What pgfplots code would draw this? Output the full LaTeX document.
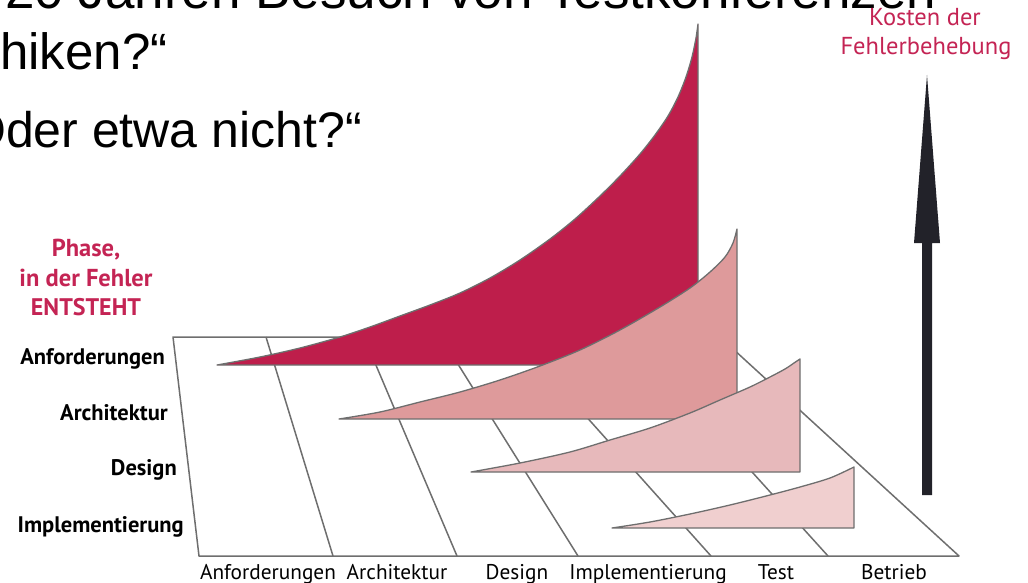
\documentclass[border=0pt]{standalone}
\usepackage{fontspec}
\setmainfont{PT Sans}
\newfontfamily\arialf{Liberation Sans}
\usepackage{pgfplots}
\pgfplotsset{compat=1.18}
\definecolor{cA}{HTML}{BE1E4B}
\definecolor{cB}{HTML}{DE9A9B}
\definecolor{cC}{HTML}{E7B9BB}
\definecolor{cD}{HTML}{F0CFCF}
\definecolor{outl}{HTML}{6E6E6E}
\definecolor{txtred}{HTML}{C42454}
\definecolor{arrowc}{HTML}{222229}
\begin{document}
\begin{tikzpicture}
\begin{axis}[scale only axis, width=1028pt, height=583pt,
  xmin=0, xmax=1028, ymin=0, ymax=583, y dir=reverse,
  hide axis, clip=true, no markers,
  floor/.style={draw=outl, line width=1.5pt, line join=round},
  shape/.style={draw=outl, line width=1.3pt, line join=round}]
% floor
\addplot[floor] coordinates {(173,337) (720,337) (959,556) (199,556)} -- cycle;
\addplot[floor] coordinates {(266,337) (333,556)};
\addplot[floor] coordinates {(364,337) (457,556)};
\addplot[floor] coordinates {(441,337) (578,556)};
\addplot[floor] coordinates {(515,337) (711,556)};
\addplot[floor] coordinates {(630,337) (828,556)};
% Anforderungen
\addplot[shape, fill=cA, smooth] coordinates {(217,365) (260,357) (300,348) (340,337) (370,327) (400,316) (430,305) (460,293) (490,278) (520,260) (550,239) (575,219) (600,196) (620,176) (640,154) (655,135) (668,116) (678,97) (686,77) (692,57) (696,38) (698,24)} -- (axis cs:698,365) -- cycle;
% Architektur
\addplot[shape, fill=cB, smooth] coordinates {(339,419) (380,412) (420,402) (460,392) (500,380) (540,366) (580,350) (620,330) (660,307) (690,288) (710,272) (725,257) (733,243) (737,229)} -- (axis cs:737,419) -- cycle;
% Design
\addplot[shape, fill=cC, smooth] coordinates {(471,472) (520,463) (570,452) (610,440) (650,428) (690,413) (720,400) (750,387) (770,377) (785,369) (794,363) (800,359)} -- (axis cs:800,472) -- cycle;
% Implementierung
\addplot[shape, fill=cD, smooth] coordinates {(612,528) (650,522) (690,514) (730,505) (770,495) (800,487) (830,478) (854,467)} -- (axis cs:854,528) -- cycle;
% arrow
\addplot[fill=arrowc, draw=none] coordinates {(922,495) (922,243) (914,243) (927,75) (940,243) (932,243) (932,495)} -- cycle;
% slide text
\node[anchor=base west, inner sep=0pt, font=\arialf\fontsize{53}{60}\selectfont] at (axis cs:5,9) {20 Jahren Besuch von Testkonferenzen};
\node[anchor=base west, inner sep=0pt, font=\arialf\fontsize{51}{60}\selectfont] at (axis cs:0,70) {hiken?“};
\node[anchor=base west, inner sep=0pt, font=\arialf\fontsize{50}{60}\selectfont] at (axis cs:-33,147) {Oder etwa nicht?“};
% cost label
\node[anchor=base, inner sep=0pt, text=txtred, font=\fontsize{24.5}{28}\selectfont] at (axis cs:925,26) {Kosten der};
\node[anchor=base, inner sep=0pt, text=txtred, font=\fontsize{24.5}{28}\selectfont] at (axis cs:926,55) {Fehlerbehebung};
% phase label
\node[anchor=base, inner sep=0pt, text=txtred, font=\bfseries\fontsize{24.5}{28}\selectfont] at (axis cs:86,256) {Phase,};
\node[anchor=base, inner sep=0pt, text=txtred, font=\bfseries\fontsize{24.5}{28}\selectfont] at (axis cs:86,286) {in der Fehler};
\node[anchor=base, inner sep=0pt, text=txtred, font=\bfseries\fontsize{24}{28}\selectfont] at (axis cs:86,315) {ENTSTEHT};
% row labels
\node[anchor=base east, inner sep=0pt, font=\bfseries\fontsize{22.5}{26}\selectfont] at (axis cs:165,364) {Anforderungen};
\node[anchor=base east, inner sep=0pt, font=\bfseries\fontsize{22.5}{26}\selectfont] at (axis cs:168,420) {Architektur};
\node[anchor=base east, inner sep=0pt, font=\bfseries\fontsize{22.5}{26}\selectfont] at (axis cs:177,475) {Design};
\node[anchor=base east, inner sep=0pt, font=\bfseries\fontsize{22.5}{26}\selectfont] at (axis cs:184,532) {Implementierung};
% bottom labels
\node[anchor=base, inner sep=0pt, font=\fontsize{21.3}{24}\selectfont] at (axis cs:268,579) {Anforderungen};
\node[anchor=base, inner sep=0pt, font=\fontsize{21.3}{24}\selectfont] at (axis cs:397,579) {Architektur};
\node[anchor=base, inner sep=0pt, font=\fontsize{21.3}{24}\selectfont] at (axis cs:517,579) {Design};
\node[anchor=base, inner sep=0pt, font=\fontsize{21.3}{24}\selectfont] at (axis cs:648,579) {Implementierung};
\node[anchor=base, inner sep=0pt, font=\fontsize{21.3}{24}\selectfont] at (axis cs:776,579) {Test};
\node[anchor=base, inner sep=0pt, font=\fontsize{21.3}{24}\selectfont] at (axis cs:894,579) {Betrieb};
\end{axis}
\pgfresetboundingbox
\path (current axis.south west) rectangle (current axis.north east);
\end{tikzpicture}
\end{document}
